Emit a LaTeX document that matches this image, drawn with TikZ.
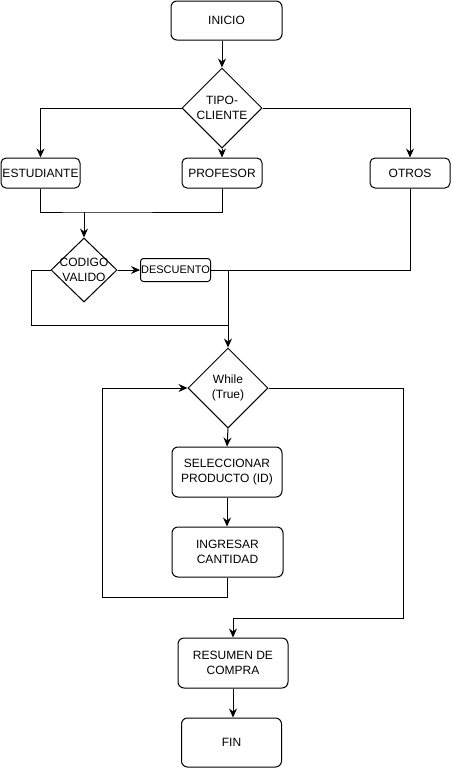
\documentclass[tikz,border=0pt]{standalone}
\usepackage{fontspec}
\setmainfont{Liberation Sans}
\usetikzlibrary{shapes.geometric,arrows.meta}
\tikzset{
  proc/.style={draw, rounded corners=6pt, line width=1pt, inner sep=0pt, align=center, font=\fontsize{12}{15.5}\selectfont},
  smallproc/.style={draw, rounded corners=3pt, line width=1pt, inner sep=0pt, font=\fontsize{11}{13}\selectfont},
  decision/.style={draw, diamond, line width=1pt, inner sep=0pt},
  dtext/.style={align=center, font=\fontsize{12}{15.5}\selectfont},
  line/.style={line width=1pt},
  arr/.style={line width=1pt, -{Stealth[length=9pt, width=8pt, inset=3pt]}}
}
\begin{document}
\begin{tikzpicture}[x=1pt, y=-1pt]
          \useasboundingbox (0,0) rectangle (451,769);
          \node[proc, minimum width=111pt, minimum height=39pt] (nInicio) at (226.5,20.5) {INICIO};
          \node[decision, minimum width=80pt, minimum height=80pt, label={[dtext]center:TIPO-\\CLIENTE}] (nTipo) at (222,108) {};
          \node[proc, rounded corners=5pt, minimum width=79pt, minimum height=30pt] (nEst) at (40.5,173) {ESTUDIANTE};
          \node[proc, rounded corners=5pt, minimum width=80pt, minimum height=30pt] (nProf) at (222,173) {PROFESOR};
          \node[proc, rounded corners=5pt, minimum width=80pt, minimum height=30pt] (nOtros) at (410,173) {OTROS};
          \node[decision, minimum width=66pt, minimum height=64pt, label={[dtext]center:CODIGO\\VALIDO}] (nCod) at (84,270) {};
          \node[smallproc, minimum width=70pt, minimum height=23pt] (nDesc) at (175.5,270) {DESCUENTO};
          \node[decision, minimum width=80pt, minimum height=80pt, label={[dtext]center:While\\(True)}] (nWhile) at (228,388) {};
          \node[proc, minimum width=110pt, minimum height=50pt] (nSel) at (227,472) {SELECCIONAR\\PRODUCTO (ID)};
          \node[proc, minimum width=111pt, minimum height=50pt] (nIng) at (227.5,552) {INGRESAR\\CANTIDAD};
          \node[proc, minimum width=110pt, minimum height=50pt] (nRes) at (233,663) {RESUMEN DE\\COMPRA};
          \node[proc, minimum width=100pt, minimum height=49pt] (nFin) at (231.5,742.5) {FIN};

          \coordinate (cJoin) at (84,212);
          \coordinate (cNo) at (31,325);
          \coordinate (cLoop) at (102,597);
          \coordinate (cExit) at (403,618);

          \draw[arr] (nTipo.north |- nInicio.south) -- (nTipo.north);
          \draw[arr] (nTipo.west) -| (nEst.north);
          \draw[arr] (nTipo.south) -- (nProf.north);
          \draw[arr] (nTipo.east) -| (nOtros.north);

          \draw[line] (nEst.south) |- (cJoin) -| (nProf.south);
          \draw[arr] (cJoin) -- (nCod.north);
          \draw[arr] (nCod.east) -- (nDesc.west);
          \draw[line] (nDesc.east) -| (nOtros.south);
          \draw[line] (nCod.west) -| (cNo) -- (nWhile.north |- cNo);
          \draw[arr] (nWhile.north |- nDesc.east) -- (nWhile.north);

          \draw[arr] (nWhile.south) -- (nSel.north);
          \draw[arr] (nSel.south) -- (nSel.south |- nIng.north);
          \draw[arr] (nIng.south) |- (cLoop) |- (nWhile.west);
          \draw[arr] (nWhile.east) -| (cExit) -| (nRes.north);
          \draw[arr] (nRes.south) -- (nRes.south |- nFin.north);
        \end{tikzpicture}
\end{document}
